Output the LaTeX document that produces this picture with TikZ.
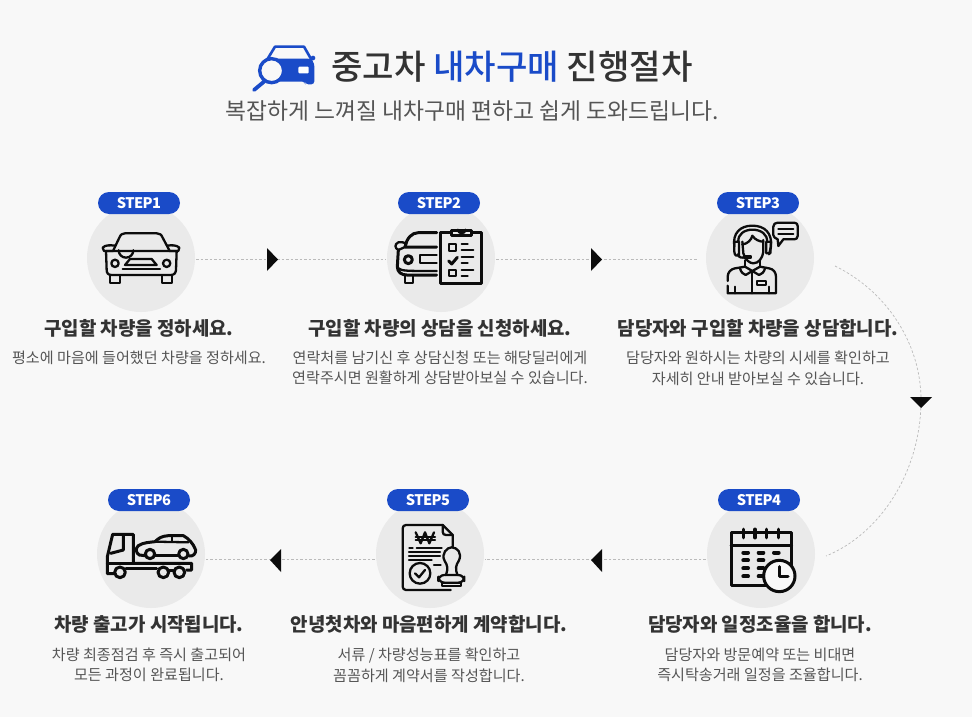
\documentclass[tikz,border=0pt]{standalone}
\usepackage{fontspec}
\setmainfont{Noto Sans CJK KR}
\newfontfamily\medf{Noto Sans CJK KR Medium}
\usetikzlibrary{calc}
\definecolor{bgc}{HTML}{F8F8F8}
\definecolor{disc}{HTML}{EAEAEA}
\definecolor{pillc}{HTML}{1A4BC8}
\definecolor{inkc}{HTML}{0C0C0C}
\definecolor{headc}{HTML}{333333}
\definecolor{subc}{HTML}{555555}
\definecolor{linec}{HTML}{BBBBBB}
\tikzset{
  x=1pt,y=-1pt,
  disk/.style={circle,fill=disc,minimum size=108pt,inner sep=0pt},
  pill/.style={rectangle,rounded corners=11pt,fill=pillc,minimum width=82pt,minimum height=22pt,inner sep=0pt,text=white,font=\fontsize{14.6}{14}\selectfont\bfseries\addfontfeature{LetterSpace=-4}},
  heading/.style={inner sep=0pt,text=headc,font=\fontsize{18.9}{22}\selectfont\bfseries},
  desc/.style={inner sep=0pt,align=center,text=subc,font=\fontsize{15.1}{20.6}\selectfont},
  conn/.style={draw=linec,line width=0.7pt,dash pattern=on 2.5pt off 2pt},
  tri/.style={fill=inkc},
  ico/.style={draw=inkc,line width=2.3pt,line join=round,line cap=round},
  icob/.style={draw=inkc,line width=3pt,line join=round,line cap=round},
}
\begin{document}
\begin{tikzpicture}
\path[use as bounding box,fill=bgc] (0,0) rectangle (972,717);
% header
\node[anchor=base west,inner sep=0pt,text=headc,font=\fontsize{34.2}{36}\medf] (title) at (331,80) {중고차 \textcolor{pillc}{내차구매} 진행절차};
\node[anchor=base,inner sep=0pt,text=subc,font=\fontsize{22.8}{26}\selectfont] (subtitle) at (472,119) {복잡하게 느껴질 내차구매 편하고 쉽게 도와드립니다.};
% header icon
\begin{scope}[shift={(230,30)},scale=1/3]
\draw[pillc,line width=2.6pt,line join=round] (112,88) -- (135,50) -- (222,50) -- (246,92);
\fill[pillc,rounded corners=3pt] (130,86) -- (243,86) -- (253,100) -- (253,163) -- (226,163) -- (226,155) -- (130,155) -- cycle;
\fill[pillc] (249,84) circle (7);
\fill[white,rounded corners=1pt] (205,110) rectangle (236,130);
\draw[pillc,fill=bgc,line width=3.4pt] (125,122) circle (36);
\draw[pillc,line width=3.8pt,line cap=round] (102,155) -- (72,180);
\end{scope}
% discs
\node[disk] (d1) at (141,258) {};
\node[disk] (d2) at (441,258) {};
\node[disk] (d3) at (760,258) {};
\node[disk] (d4) at (761,554) {};
\node[disk] (d5) at (430,554) {};
\node[disk] (d6) at (151,554) {};
\node[pill] (p1) at (139,203) {STEP1};
\node[pill] (p2) at (439,203) {STEP2};
\node[pill] (p3) at (758,203) {STEP3};
\node[pill] (p4) at (759,500) {STEP4};
\node[pill] (p5) at (428,500) {STEP5};
\node[pill] (p6) at (149,500) {STEP6};
% connectors
\coordinate (cs) at (835,266);
\coordinate (cm) at (921,400);
\coordinate (ce) at (826,556);
\draw[conn] ([yshift=-1.5pt,xshift=1pt]d1.east) -- ([yshift=-1.5pt,xshift=-1pt]d2.west);
\draw[conn] ([yshift=-1.5pt,xshift=1pt]d2.east) -- ([yshift=-1.5pt,xshift=-9pt]d3.west);
\draw[conn] (cs) .. controls (888,292) and (921,345) .. (cm) .. controls (921,472) and (880,534) .. (ce);
\draw[conn] ([yshift=-5.5pt,xshift=-1pt]d4.west) -- ([yshift=-5.5pt,xshift=1pt]d5.east);
\draw[conn] ([yshift=-5.5pt,xshift=-1pt]d5.west) -- ([yshift=-5.5pt,xshift=1pt]d6.east);
\fill[tri] (267,248) -- (278,259.5) -- (267,271) -- cycle;
\fill[tri] (591,248) -- (602,259.5) -- (591,271) -- cycle;
\fill[tri] (910,397) -- (932,397) -- (921,408) -- cycle;
\fill[tri] (602,549) -- (591,560) -- (602,572) -- cycle;
\fill[tri] (281,549) -- (270,560) -- (281,572) -- cycle;
% text
\node[heading] (h1) at (139,328) {구입할 차량을 정하세요.};
\node[heading] (h2) at (440,328) {구입할 차량의 상담을 신청하세요.};
\node[heading] (h3) at (758,328) {담당자와 구입할 차량을 상담합니다.};
\node[heading] (h4) at (760,624) {담당자와 일정조율을 합니다.};
\node[heading] (h5) at (429,624) {안녕첫차와 마음편하게 계약합니다.};
\node[heading] (h6) at (149,624) {차량 출고가 시작됩니다.};
\node[desc] (t1) at (139,358) {평소에 마음에 들어했던 차량을 정하세요.};
\node[desc] (t2) at (440,368) {연락처를 남기신 후 상담신청 또는 해당딜러에게\\연락주시면 원활하게 상담받아보실 수 있습니다.};
\node[desc] (t3) at (758,368) {담당자와 원하시는 차량의 시세를 확인하고\\자세히 안내 받아보실 수 있습니다.};
\node[desc] (t4) at (760,665) {담당자와 방문예약 또는 비대면\\즉시탁송거래 일정을 조율합니다.};
\node[desc] (t5) at (429,665) {서류 / 차량성능표를 확인하고\\꼼꼼하게 계약서를 작성합니다.};
\node[desc] (t6) at (149,665) {차량 최종점검 후 즉시 출고되어\\모든 과정이 완료됩니다.};
% icon 1
\begin{scope}[shift={(80,185)},scale=1/3]
\draw[ico] (100,196) -- (118,158) .. controls (122,148) and (128,145) .. (135,145) -- (230,145) .. controls (238,145) and (244,148) .. (248,158) -- (268,196);
\draw[ico] (100,198) -- (72,198) -- (68,188) .. controls (75,180) and (90,180) .. (105,182);
\draw[ico] (268,198) -- (295,198) -- (298,188) .. controls (290,180) and (275,180) .. (262,182);
\draw[ico] (78,198) -- (290,198) -- (288,255) .. controls (287,265) and (282,270) .. (272,270) -- (95,270) .. controls (85,270) and (80,265) .. (80,255) -- cycle;
\draw[ico] (90,272) -- (90,295) -- (120,295) -- (120,272);
\draw[ico] (247,272) -- (247,295) -- (275,295) -- (275,272);
\draw[ico] (105,235) circle (11);
\draw[ico] (260,235) circle (11);
\draw[ico] (135,240) -- (150,222) -- (215,222) -- (230,240) -- cycle;
\draw[ico] (128,251) -- (240,251);
\draw[ico] (116,196) arc (180:0:22);
\end{scope}
% icon 2
\begin{scope}[shift={(380,185)},scale=1/3]
\draw[icob] (182,143) rectangle (305,295);
\draw[icob,fill=disc] (215,135) rectangle (275,152);
\draw[ico] (234,134) arc (180:0:11);
\draw[ico] (208,178) rectangle (228,197);
\draw[ico] (245,178) -- (263,178);
\draw[ico] (245,195) -- (280,195);
\draw[icob] (206,228) -- (215,237) -- (232,217);
\draw[ico] (245,215) -- (280,215);
\draw[ico] (245,235) -- (263,235);
\draw[ico] (208,255) rectangle (228,272);
\draw[ico] (245,255) -- (280,255);
\draw[ico] (245,272) -- (263,272);
\draw[icob] (170,143) -- (115,143) .. controls (95,143) and (80,160) .. (75,186) -- (170,186);
\draw[ico] (75,186) -- (55,195) .. controls (45,190) and (42,178) .. (55,172) .. controls (62,170) and (72,172) .. (80,176);
\draw[icob] (55,195) -- (52,245) .. controls (52,262) and (65,270) .. (80,270) -- (170,270);
\draw[ico] (55,250) .. controls (65,258) and (80,258) .. (170,258);
\draw[icob] (85,224) circle (12);
\draw[ico] (170,210) -- (120,210) -- (120,235) -- (170,235);
\draw[ico] (75,272) -- (75,295) -- (100,295) -- (100,272);
\end{scope}
% icon 3
\begin{scope}[shift={(695,185)},scale=1/3]
\draw[ico] (118,185) .. controls (112,145) and (135,122) .. (172,122) .. controls (210,122) and (232,145) .. (228,185) -- (222,208);
\draw[ico] (130,170) .. controls (128,148) and (148,134) .. (172,134) .. controls (198,134) and (218,148) .. (216,170);
\draw[ico] (118,170) -- (118,200) .. controls (118,210) and (125,216) .. (132,212) -- (132,170) -- cycle;
\draw[ico] (214,170) -- (214,205) -- (226,205) -- (228,170) -- cycle;
\draw[ico] (142,170) -- (145,205) .. controls (150,225) and (165,235) .. (175,235) .. controls (190,235) and (203,220) .. (205,200) -- (205,165);
\draw[ico] (142,178) .. controls (155,178) and (170,165) .. (172,152) .. controls (180,165) and (195,170) .. (205,170);
\draw[ico] (128,208) .. controls (132,218) and (140,220) .. (150,216);
\draw[ico,fill=inkc] (146,213) rectangle (168,219);
\draw[ico] (150,226) -- (150,245);
\draw[ico] (195,228) -- (195,245);
\draw[ico] (98,288) -- (98,275) .. controls (98,262) and (108,252) .. (120,250) -- (150,245) -- (172,258) -- (195,245) -- (222,250) .. controls (235,252) and (243,262) .. (243,275) -- (243,325) -- (98,325) -- (98,302);
\draw[ico] (135,250) .. controls (138,262) and (145,268) .. (152,270) -- (172,258) -- (192,270) .. controls (200,268) and (207,262) .. (210,250);
\draw[ico] (172,258) -- (172,325);
\draw[ico] (120,305) -- (120,325);
\draw[ico] (222,305) -- (222,325);
\draw[ico] (186,287) rectangle (212,300);
\draw[ico] (248,113) -- (298,113) .. controls (305,113) and (308,118) .. (308,123) -- (308,153) .. controls (308,160) and (303,163) .. (298,163) -- (265,163) -- (250,183) -- (248,163) .. controls (240,160) and (235,155) .. (235,150) -- (235,125) .. controls (235,118) and (240,113) .. (248,113) -- cycle;
\draw[ico] (250,132) -- (295,132);
\draw[ico] (250,147) -- (295,147);
\end{scope}
% icon 4
\begin{scope}[shift={(700,385)},scale=1/3]
\draw[icob] (93,442) rectangle (275,600);
\draw[icob] (93,482) -- (275,482);
\foreach \px in {130,165,200,235} \draw[line width=3.6pt,line cap=round,draw=inkc] (\px,433) -- (\px,458);
\foreach \py in {503,526,550,574} \foreach \px in {137,183} \draw[line width=4pt,line cap=round,draw=inkc] (\px-7,\py) -- (\px+7,\py);
\draw[line width=4pt,line cap=round,draw=inkc] (222,503) -- (236,503);
\draw[icob,fill=bgc] (238,573) circle (47);
\draw[icob] (238,545) -- (238,573) -- (264,573);
\end{scope}
% icon 5
\begin{scope}[shift={(370,485)},scale=1/3]
\draw[ico] (242,315) -- (108,315) .. controls (102,315) and (98,310) .. (98,305) -- (98,130) .. controls (98,124) and (102,120) .. (108,120) -- (218,120) -- (248,150) -- (248,185);
\draw[ico] (218,120) -- (218,140) .. controls (218,147) and (222,150) .. (228,150) -- (248,150);
\draw[ico] (137,142) -- (152,175) -- (165,142) -- (178,175) -- (192,142);
\draw[ico] (137,155) -- (195,155);
\draw[ico] (137,165) -- (195,165);
\draw[ico] (118,188) -- (128,188);
\draw[ico] (140,188) -- (215,188);
\draw[ico] (117,202) -- (210,202);
\draw[ico] (117,213) -- (210,213);
\draw[ico] (117,225) -- (185,225);
\draw[ico] (192,240) -- (212,240);
\draw[ico] (150,265) circle (31);
\draw[ico] (135,265) -- (147,277) -- (165,255);
\draw[ico] (228,270) .. controls (235,250) and (232,240) .. (224,228) .. controls (212,205) and (232,187) .. (245,187) .. controls (262,187) and (278,205) .. (266,228) .. controls (258,240) and (255,250) .. (262,270);
\draw[ico,rounded corners=6pt] (205,270) rectangle (283,293);
\draw[ico] (215,293) rectangle (273,303);
\end{scope}
% icon 6
\begin{scope}[shift={(90,485)},scale=1/3]
\draw[icob] (75,266) -- (52,266) -- (52,215) -- (68,148) -- (130,148) -- (130,235) -- (305,235) -- (305,255) -- (290,255);
\draw[icob] (62,205) -- (100,195) -- (100,150);
\draw[icob] (52,235) -- (130,235);
\draw[icob] (108,250) -- (200,250);
\draw[icob] (238,255) -- (250,255);
\draw[icob] (90,262) circle (16);
\draw[icob] (220,262) circle (16);
\draw[icob] (268,262) circle (16);
\draw[icob] (165,212) -- (148,210) .. controls (138,205) and (135,190) .. (145,182) .. controls (160,172) and (180,172) .. (195,170) .. controls (205,160) and (215,153) .. (235,152) -- (280,152) .. controls (295,160) and (310,175) .. (317,195) .. controls (318,205) and (310,215) .. (297,213);
\draw[icob] (195,212) -- (265,212);
\draw[icob] (180,207) circle (14);
\draw[icob] (280,207) circle (14);
\draw[ico] (195,170) -- (295,172);
\draw[ico] (245,154) -- (245,170);
\end{scope}
\end{tikzpicture}
\end{document}
